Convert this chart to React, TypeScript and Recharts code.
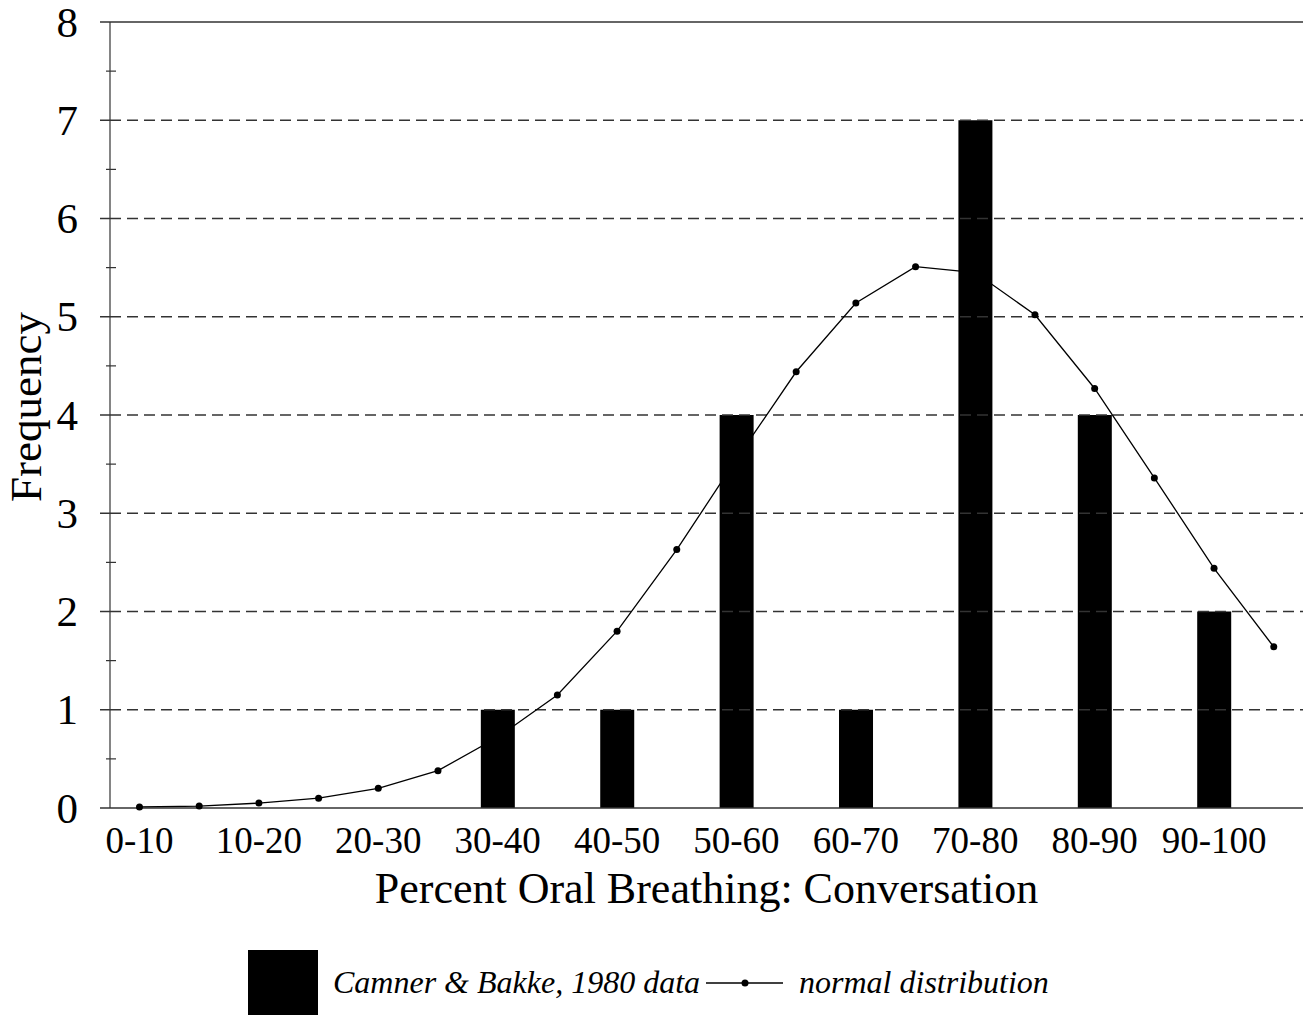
import { ComposedChart, Bar, Line, XAxis, YAxis, ReferenceLine } from 'recharts';

const categories = ['0-10', '10-20', '20-30', '30-40', '40-50', '50-60', '60-70', '70-80', '80-90', '90-100'];
const frequencies = [0, 0, 0, 1, 1, 4, 1, 7, 4, 2];

// normal curve is sampled at every category centre and every boundary between them
const normalPositions = [0, 0.5, 1, 1.5, 2, 2.5, 3, 3.5, 4, 4.5, 5, 5.5, 6, 6.5, 7, 7.5, 8, 8.5, 9, 9.5];
const normalValues = [0.01, 0.02, 0.05, 0.1, 0.2, 0.38, 0.72, 1.15, 1.8, 2.63, 3.55, 4.44, 5.14, 5.51, 5.45, 5.02, 4.27, 3.36, 2.44, 1.64];

const yTicks = [0, 0.5, 1, 1.5, 2, 2.5, 3, 3.5, 4, 4.5, 5, 5.5, 6, 6.5, 7, 7.5, 8];
const gridValues = [1, 2, 3, 4, 5, 6, 7];
const xTicks = [0, 1, 2, 3, 4, 5, 6, 7, 8, 9];

const data = normalPositions.map((pos, i) => ({
    pos,
    freq: Number.isInteger(pos) ? frequencies[pos] : null,
    normal: normalValues[i],
}));

const FONT = '"Liberation Serif", "Times New Roman", serif';
const AXIS = '#333';

const YTick = ({ x, y, payload }: any) => {
    const major = Number.isInteger(payload.value);
    if (!major) {
        return <line x1={x - 4} x2={x + 6} y1={y} y2={y} stroke={AXIS} strokeWidth={1.2} />;
    }
    return (
        <g>
            <line x1={x - 10} x2={x} y1={y} y2={y} stroke={AXIS} strokeWidth={1.5} />
            <text x={x - 32} y={y} textAnchor="end" dominantBaseline="central" fontFamily={FONT} fontSize={43} fill="#000">
                {payload.value}
            </text>
        </g>
    );
};

const XTitle = ({ viewBox }: any) => (
    <text x={viewBox.x + viewBox.width / 2} y={903} textAnchor="middle" fontFamily={FONT} fontSize={44} fill="#000">
        Percent Oral Breathing: Conversation
    </text>
);

const YTitle = ({ viewBox }: any) => {
    const cx = 41;
    const cy = viewBox.y + viewBox.height / 2 - 8;
    return (
        <text x={cx} y={cy} transform={`rotate(-90, ${cx}, ${cy})`} textAnchor="middle" fontFamily={FONT} fontSize={45} fill="#000">
            Frequency
        </text>
    );
};

const Legend = () => (
    <div style={{ position: 'absolute', left: 248, top: 950, display: 'flex', alignItems: 'center', fontFamily: FONT, fontStyle: 'italic', fontSize: 32 }}>
        <span style={{ width: 70, height: 65, background: '#000', display: 'inline-block' }} />
        <span style={{ marginLeft: 15 }}>Camner &amp; Bakke, 1980 data</span>
        <svg width={78} height={20} style={{ marginLeft: 6 }}>
            <line x1={0} x2={77} y1={10} y2={10} stroke="#000" strokeWidth={1.5} />
            <circle cx={39} cy={10} r={3.5} fill="#000" />
        </svg>
        <span style={{ marginLeft: 15 }}>normal distribution</span>
    </div>
);

const App = () => {
    return (
        <div style={{ position: 'absolute', left: 0, top: 0, width: 1304, height: 1015, background: '#fff' }}>
            <ComposedChart width={1304} height={1015} data={data} margin={{ top: 22, right: 1, left: 0, bottom: 0 }}>
                <XAxis
                    type="number"
                    dataKey="pos"
                    domain={[-0.247, 9.745]}
                    allowDataOverflow
                    ticks={xTicks}
                    tickFormatter={(i: number) => categories[i]}
                    height={207}
                    tickLine={false}
                    tickSize={0}
                    tickMargin={19}
                    axisLine={{ stroke: AXIS, strokeWidth: 1.5 }}
                    tick={{ fontFamily: FONT, fontSize: 37, fill: '#000' }}
                    label={{ content: <XTitle /> }}
                />
                <YAxis
                    type="number"
                    domain={[0, 8]}
                    ticks={yTicks}
                    interval={0}
                    width={110}
                    tickLine={false}
                    tickSize={0}
                    tickMargin={0}
                    axisLine={{ stroke: AXIS, strokeWidth: 1.2 }}
                    tick={<YTick />}
                    label={{ content: <YTitle /> }}
                />
                {gridValues.map((v) => (
                    <ReferenceLine key={v} y={v} stroke={AXIS} strokeWidth={1.5} strokeDasharray="11 6" />
                ))}
                <ReferenceLine y={8} stroke={AXIS} strokeWidth={1.5} />
                <Line
                    dataKey="normal"
                    type="linear"
                    stroke="#000"
                    strokeWidth={1.3}
                    dot={{ r: 3.5, fill: '#000', stroke: '#000', strokeWidth: 0 }}
                    activeDot={false}
                    isAnimationActive={false}
                />
                <Bar dataKey="freq" fill="#000" barSize={34} isAnimationActive={false} />
            </ComposedChart>
            <Legend />
        </div>
    );
};

export default App;
